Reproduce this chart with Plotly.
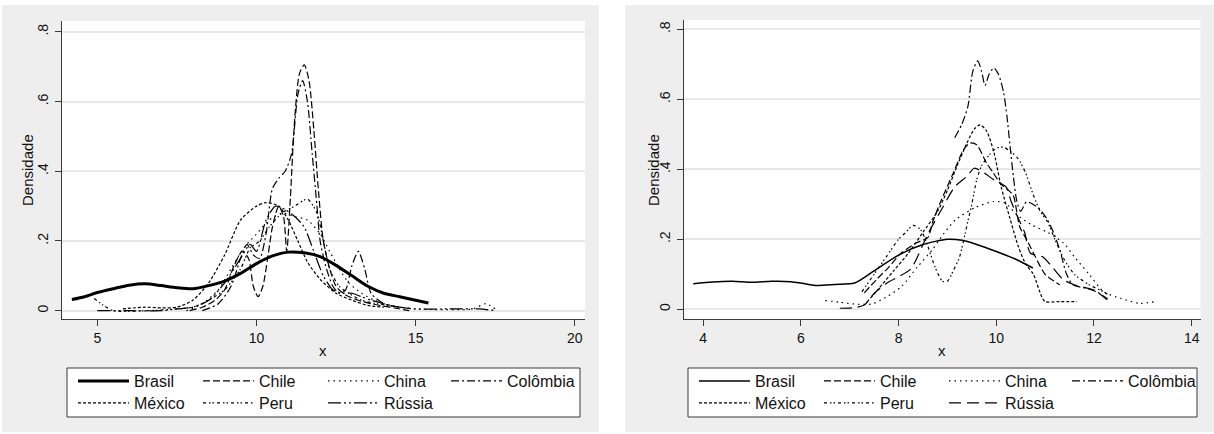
import plotly.graph_objects as go

W, H = 1214, 434

series_names = ["Brasil", "Chile", "China", "Colômbia", "México", "Peru", "Rússia"]

# ---------------- Left panel data ----------------
left_brasil_x = [4.2, 4.6, 5.0, 5.5, 6.0, 6.5, 7.0, 7.5, 8.0, 8.5, 9.0, 9.5, 10.0, 10.5, 11.0, 11.5, 12.0, 12.5, 13.0, 13.5, 14.0, 14.5, 15.0, 15.4]
left_brasil_y = [0.032, 0.040, 0.052, 0.063, 0.073, 0.077, 0.072, 0.066, 0.063, 0.072, 0.085, 0.107, 0.135, 0.157, 0.168, 0.166, 0.155, 0.130, 0.100, 0.070, 0.050, 0.040, 0.030, 0.022]

left_chile_x = [7.9, 8.3, 8.7, 9.0, 9.3, 9.55, 9.75, 9.9, 10.05, 10.2, 10.35, 10.5, 10.7, 10.85, 10.95, 11.05, 11.2, 11.35, 11.5, 11.65, 11.8, 11.95, 12.1, 12.3, 12.5, 12.8, 13.2, 13.6, 14.2, 14.8]
left_chile_y = [0.0, 0.01, 0.03, 0.06, 0.13, 0.17, 0.15, 0.07, 0.04, 0.07, 0.15, 0.24, 0.30, 0.27, 0.17, 0.30, 0.55, 0.68, 0.705, 0.66, 0.52, 0.34, 0.20, 0.12, 0.07, 0.045, 0.03, 0.02, 0.01, 0.0]

left_china_x = [7.8, 8.3, 8.8, 9.2, 9.6, 10.0, 10.4, 10.8, 11.2, 11.6, 12.0, 12.3, 12.6, 12.9, 13.3, 13.7, 14.2, 15.0, 16.0, 16.8, 17.2, 17.5]
left_china_y = [0.0, 0.02, 0.06, 0.12, 0.18, 0.22, 0.26, 0.28, 0.27, 0.26, 0.22, 0.17, 0.12, 0.08, 0.05, 0.03, 0.015, 0.005, 0.003, 0.005, 0.02, 0.005]

left_colombia_x = [8.3, 8.8, 9.2, 9.5, 9.7, 9.9, 10.1, 10.3, 10.5, 10.7, 10.9, 11.1, 11.3, 11.45, 11.6, 11.75, 11.9, 12.0, 12.2, 12.4, 12.6, 12.8, 13.0, 13.2, 13.4, 13.6, 14.0, 14.5]
left_colombia_y = [0.0, 0.02, 0.07, 0.15, 0.19, 0.16, 0.15, 0.22, 0.35, 0.38, 0.40, 0.45, 0.62, 0.66, 0.60, 0.45, 0.30, 0.20, 0.12, 0.07, 0.05, 0.06, 0.13, 0.17, 0.12, 0.05, 0.02, 0.01]

left_mexico_x = [5.8, 6.5, 7.0, 7.5, 8.0, 8.5, 9.0, 9.5, 10.0, 10.3, 10.7, 11.0, 11.3, 11.6, 12.0, 12.5, 13.0, 13.5, 14.0]
left_mexico_y = [0.005, 0.01, 0.008, 0.01, 0.03, 0.08, 0.16, 0.26, 0.30, 0.31, 0.30, 0.26, 0.20, 0.14, 0.09, 0.05, 0.03, 0.015, 0.01]

left_peru_x = [4.9, 5.2, 5.5, 6.5, 7.5, 8.0, 8.5, 9.0, 9.5, 9.8, 10.1, 10.4, 10.8, 11.2, 11.6, 11.9, 12.1, 12.3, 12.6, 12.9, 13.3, 13.8, 14.5]
left_peru_y = [0.035, 0.015, 0.0, 0.0, 0.005, 0.01, 0.03, 0.06, 0.12, 0.18, 0.20, 0.24, 0.28, 0.30, 0.32, 0.28, 0.20, 0.12, 0.07, 0.05, 0.03, 0.02, 0.01]

left_russia_x = [5.0, 6.0, 7.0, 7.5, 8.0, 8.5, 9.0, 9.5, 9.8, 10.0, 10.3, 10.6, 10.9, 11.2, 11.5, 11.8, 12.1, 12.4, 12.7, 13.0, 13.3, 13.6, 14.0, 14.5, 15.0, 16.0, 17.0, 17.5]
left_russia_y = [0.0, 0.0, 0.0, 0.005, 0.01, 0.03, 0.08, 0.15, 0.19, 0.17, 0.26, 0.30, 0.29, 0.27, 0.24, 0.17, 0.10, 0.06, 0.05, 0.05, 0.04, 0.03, 0.02, 0.01, 0.005, 0.005, 0.005, 0.0]

# ---------------- Right panel data ----------------
right_brasil_x = [3.8, 4.2, 4.6, 5.0, 5.4, 5.8, 6.0, 6.3, 6.7, 7.1, 7.5, 8.0, 8.5, 9.0, 9.3, 9.6, 10.0, 10.4, 10.75]
right_brasil_y = [0.073, 0.078, 0.080, 0.077, 0.080, 0.079, 0.075, 0.068, 0.071, 0.075, 0.110, 0.155, 0.185, 0.200, 0.197, 0.185, 0.165, 0.143, 0.118]

right_chile_x = [7.3, 7.55, 7.8, 8.05, 8.37, 8.6, 8.7, 8.87, 9.12, 9.33, 9.46, 9.6, 9.8, 9.94, 10.08, 10.25, 10.35, 10.48, 10.62, 10.8, 11.0, 11.3]
right_chile_y = [0.047, 0.085, 0.12, 0.16, 0.19, 0.205, 0.25, 0.31, 0.389, 0.456, 0.475, 0.47, 0.418, 0.39, 0.36, 0.34, 0.325, 0.236, 0.20, 0.15, 0.10, 0.07]

right_china_x = [6.5, 6.8, 7.1, 7.45, 7.75, 8.06, 8.38, 8.69, 8.93, 9.16, 9.56, 9.95, 10.19, 10.42, 10.74, 11.05, 11.37, 11.6, 11.9, 12.2, 12.55, 12.94, 13.25]
right_china_y = [0.025, 0.02, 0.015, 0.015, 0.035, 0.065, 0.12, 0.17, 0.217, 0.255, 0.29, 0.308, 0.303, 0.27, 0.24, 0.22, 0.19, 0.15, 0.10, 0.05, 0.031, 0.017, 0.022]

right_colombia_x = [9.15, 9.3, 9.42, 9.52, 9.62, 9.7, 9.77, 9.85, 9.95, 10.05, 10.15, 10.22, 10.28, 10.35, 10.42, 10.5, 10.62, 10.86, 11.03, 11.17, 11.3, 11.44, 11.57, 11.84, 12.05, 12.28]
right_colombia_y = [0.49, 0.53, 0.58, 0.68, 0.71, 0.68, 0.64, 0.67, 0.69, 0.67, 0.62, 0.55, 0.47, 0.38, 0.31, 0.28, 0.307, 0.29, 0.26, 0.22, 0.17, 0.10, 0.07, 0.06, 0.05, 0.03]

right_mexico_x = [7.35, 7.6, 7.9, 8.2, 8.5, 8.8, 9.0, 9.2, 9.4, 9.55, 9.67, 9.8, 9.95, 10.1, 10.28, 10.45, 10.6, 10.76, 10.93, 11.0, 11.3, 11.65]
right_mexico_y = [0.02, 0.06, 0.11, 0.16, 0.22, 0.28, 0.34, 0.41, 0.475, 0.515, 0.527, 0.51, 0.45, 0.35, 0.26, 0.18, 0.13, 0.10, 0.036, 0.022, 0.022, 0.022]

right_peru_x = [7.25, 7.5, 7.75, 8.0, 8.15, 8.3, 8.45, 8.6, 8.75, 8.9, 9.0, 9.12, 9.25, 9.4, 9.5, 9.6, 9.7, 9.85, 10.0, 10.15, 10.3, 10.45, 10.6, 10.75, 10.9, 11.05, 11.2, 11.4, 11.6, 11.9, 12.2, 12.3]
right_peru_y = [0.05, 0.10, 0.15, 0.20, 0.22, 0.24, 0.228, 0.18, 0.12, 0.08, 0.08, 0.11, 0.15, 0.24, 0.30, 0.37, 0.41, 0.44, 0.46, 0.463, 0.45, 0.43, 0.39, 0.33, 0.28, 0.25, 0.20, 0.14, 0.10, 0.07, 0.05, 0.04]

right_russia_x = [6.8, 7.1, 7.3, 7.5, 7.75, 8.0, 8.25, 8.6, 8.9, 9.15, 9.4, 9.55, 9.75, 9.95, 10.2, 10.3, 10.45, 10.58, 10.7, 10.95, 11.15, 11.37, 11.6, 12.0, 12.27]
right_russia_y = [0.003, 0.005, 0.012, 0.045, 0.074, 0.093, 0.115, 0.215, 0.29, 0.35, 0.38, 0.403, 0.39, 0.37, 0.35, 0.31, 0.26, 0.22, 0.16, 0.15, 0.12, 0.085, 0.07, 0.055, 0.027]

# axes ticks
left_x_ticks = [5, 10, 15, 20]
right_x_ticks = [4, 6, 8, 10, 12, 14]
y_ticks = [0, 0.2, 0.4, 0.6, 0.8]
y_tick_labels = ["0", ".2", ".4", ".6", ".8"]

left_data = [(left_brasil_x, left_brasil_y), (left_chile_x, left_chile_y), (left_china_x, left_china_y),
             (left_colombia_x, left_colombia_y), (left_mexico_x, left_mexico_y), (left_peru_x, left_peru_y),
             (left_russia_x, left_russia_y)]
right_data = [(right_brasil_x, right_brasil_y), (right_chile_x, right_chile_y), (right_china_x, right_china_y),
              (right_colombia_x, right_colombia_y), (right_mexico_x, right_mexico_y), (right_peru_x, right_peru_y),
              (right_russia_x, right_russia_y)]

left_dash = ["solid", "7px,3px", "1.5px,4px", "8px,3px,2px,3px", "3px,2px", "3px,3px,1.5px,2px,1.5px,3px", "13px,3px,2px,3px,2px,3px"]
right_dash = ["solid", "7px,3px", "1.5px,4px", "8px,3px,2px,3px", "3px,2px", "3px,3px,1.5px,2px,1.5px,3px", "12px,6px"]
left_width = [3, 1.2, 1.2, 1.2, 1.2, 1.2, 1.2]
right_width = [1.5, 1.2, 1.2, 1.2, 1.2, 1.2, 1.2]

# legend groups: row 1 (first three), row 1 last entry, row 2
left_legends = ["legend", "legend", "legend", "legend2", "legend3", "legend3", "legend3"]
right_legends = ["legend4", "legend4", "legend4", "legend5", "legend6", "legend6", "legend6"]

FONT = "Liberation Sans, Arial, sans-serif"
fig = go.Figure()

for i, name in enumerate(series_names):
    x, y = left_data[i]
    fig.add_trace(go.Scatter(x=x, y=y, mode="lines", name=name,
                             line=dict(color="black", width=left_width[i], dash=left_dash[i], shape="spline", smoothing=0.7),
                             xaxis="x", yaxis="y", legend=left_legends[i], hoverinfo="skip"))
for i, name in enumerate(series_names):
    x, y = right_data[i]
    fig.add_trace(go.Scatter(x=x, y=y, mode="lines", name=name,
                             line=dict(color="black", width=right_width[i], dash=right_dash[i], shape="spline", smoothing=0.7),
                             xaxis="x2", yaxis="y2", legend=right_legends[i], hoverinfo="skip"))

def px_x(p):
    return p / W

def px_y(p):
    return 1 - p / H

axis_common = dict(showline=True, linecolor="#3a3a3a", linewidth=1, ticks="outside", ticklen=6,
                   tickcolor="#3a3a3a", tickwidth=1, zeroline=False,
                   tickfont=dict(family=FONT, size=14, color="#111"))

xl = dict(axis_common, domain=[px_x(62), px_x(585)], range=[3.89, 20.32], tickvals=left_x_ticks,
          showgrid=False, anchor="y")
yl = dict(axis_common, domain=[px_y(319.3), px_y(21)], range=[-0.0247, 0.831], tickvals=y_ticks,
          ticktext=y_tick_labels, tickangle=-90, showgrid=True, gridcolor="#e8e8e8", gridwidth=2, anchor="x",
          ticklabelstandoff=1)
xr = dict(axis_common, domain=[px_x(684), px_x(1200.5)], range=[3.61, 14.18], tickvals=right_x_ticks,
          showgrid=False, anchor="y2")
yr = dict(axis_common, domain=[px_y(319.3), px_y(20)], range=[-0.0286, 0.8266], tickvals=y_ticks,
          ticktext=y_tick_labels, tickangle=-90, showgrid=True, gridcolor="#e8e8e8", gridwidth=2, anchor="x2",
          ticklabelstandoff=1)

shapes = [
    dict(type="rect", xref="paper", yref="paper", x0=px_x(2), x1=px_x(599), y0=px_y(432), y1=px_y(5),
         fillcolor="#eeeeee", line=dict(width=0), layer="below"),
    dict(type="rect", xref="paper", yref="paper", x0=px_x(625), x1=px_x(1214), y0=px_y(432), y1=px_y(5),
         fillcolor="#eeeeee", line=dict(width=0), layer="below"),
    dict(type="rect", xref="paper", yref="paper", x0=px_x(62), x1=px_x(585), y0=px_y(319.3), y1=px_y(21),
         fillcolor="white", line=dict(width=0), layer="below"),
    dict(type="rect", xref="paper", yref="paper", x0=px_x(684), x1=px_x(1200.5), y0=px_y(319.3), y1=px_y(20),
         fillcolor="white", line=dict(width=0), layer="below"),
    # legend boxes
    dict(type="rect", xref="paper", yref="paper", x0=px_x(67), x1=px_x(580), y0=px_y(417), y1=px_y(368),
         fillcolor="white", line=dict(width=1, color="#3a3a3a"), layer="below"),
    dict(type="rect", xref="paper", yref="paper", x0=px_x(688), x1=px_x(1197), y0=px_y(417), y1=px_y(368),
         fillcolor="white", line=dict(width=1, color="#3a3a3a"), layer="below"),
]

title_font = dict(family=FONT, size=15, color="#111")
annotations = [
    dict(text="Densidade", x=px_x(27), y=px_y(170), xref="paper", yref="paper", textangle=-90,
         xanchor="center", yanchor="middle", showarrow=False, font=title_font),
    dict(text="Densidade", x=px_x(653), y=px_y(170), xref="paper", yref="paper", textangle=-90,
         xanchor="center", yanchor="middle", showarrow=False, font=title_font),
    dict(text="x", x=px_x(323), y=px_y(350), xref="paper", yref="paper",
         xanchor="center", yanchor="middle", showarrow=False, font=title_font),
    dict(text="x", x=px_x(942), y=px_y(350), xref="paper", yref="paper",
         xanchor="center", yanchor="middle", showarrow=False, font=title_font),
]

legend_common = dict(orientation="h", bgcolor="rgba(0,0,0,0)", borderwidth=0,
                     font=dict(family=FONT, size=16, color="#111"), itemwidth=51,
                     xanchor="left", yanchor="middle",
                     traceorder="normal", itemclick=False, itemdoubleclick=False)
grid_entry = dict(entrywidth=59, entrywidthmode="pixels")

fig.update_layout(
    width=W, height=H,
    margin=dict(l=0, r=0, t=0, b=0),
    paper_bgcolor="white", plot_bgcolor="white",
    xaxis=xl, yaxis=yl, xaxis2=xr, yaxis2=yr,
    shapes=shapes, annotations=annotations,
    legend=dict(legend_common, **grid_entry, x=px_x(73), y=px_y(381)),
    legend2=dict(legend_common, x=px_x(446), y=px_y(381)),
    legend3=dict(legend_common, **grid_entry, x=px_x(73), y=px_y(403)),
    legend4=dict(legend_common, **grid_entry, x=px_x(694), y=px_y(381)),
    legend5=dict(legend_common, x=px_x(1067), y=px_y(381)),
    legend6=dict(legend_common, **grid_entry, x=px_x(694), y=px_y(403)),
    font=dict(family=FONT),
)

fig.write_html("out.html", config={"displayModeBar": False},
               post_script="document.body.style.margin='0';document.body.style.overflow='hidden';")
